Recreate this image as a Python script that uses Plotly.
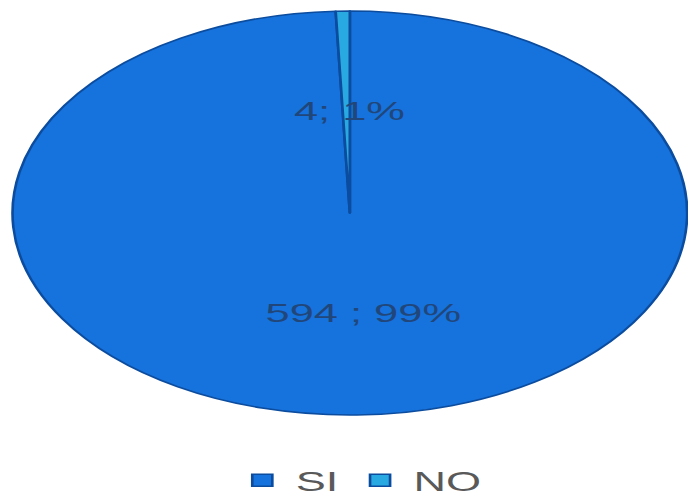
import plotly.graph_objects as go

labels = ["SI", "NO"]
values = [594, 4]
label_text = ["594 ; 99%", "4; 1%"]

slice_colors = ["#1672DC", "#29A9E1"]

W = 412   # unscaled width; the page stretches it horizontally to 688
H = 497
SX = 688 / W

fig = go.Figure()
fig.add_trace(go.Pie(
    labels=labels,
    values=values,
    sort=False,
    direction="clockwise",
    rotation=0,
    textinfo="none",
    hoverinfo="label+value+percent",
    marker=dict(colors=slice_colors, line=dict(color="#0B4C9E", width=1.6)),
    showlegend=True,
))

# data labels
fig.add_annotation(x=0.52, y=0.21, xref="paper", yref="paper",
                   text=label_text[0], showarrow=False,
                   font=dict(family="Liberation Sans, Arial", size=26, color="#21467A"))
fig.add_annotation(x=0.499, y=0.795, xref="paper", yref="paper",
                   text=label_text[1], showarrow=False,
                   font=dict(family="Liberation Sans, Arial", size=26, color="#21467A"))

fig.update_layout(
    width=W, height=H,
    margin=dict(l=7, r=0, t=11, b=82, autoexpand=False),
    paper_bgcolor="white",
    plot_bgcolor="white",
    legend=dict(
        orientation="h",
        x=0.515, xanchor="center",
        y=-0.102, yanchor="top",
        font=dict(family="Liberation Sans, Arial", size=27, color="#595959"),
        itemwidth=30,
        traceorder="normal",
    ),
)

post = """
var gd = document.getElementById('{plot_id}');
document.body.style.margin = '0';
document.body.style.overflow = 'hidden';
gd.style.transformOrigin = '0 0';
gd.style.transform = 'scale(%f, 1)';
""" % SX

fig.write_html("out.html", post_script=post, config={"displayModeBar": False})
